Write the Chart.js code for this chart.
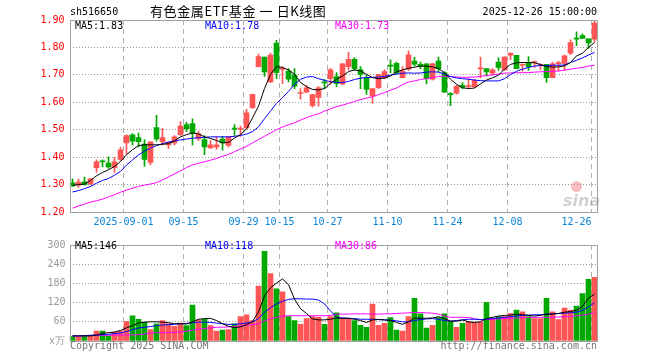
<!DOCTYPE html>
<html>
<head>
<meta charset="utf-8">
<script src="https://cdn.jsdelivr.net/npm/chart.js@4"></script>
<style>
  body { margin: 0; background: #fff; width: 660px; height: 360px; position: relative; overflow: hidden;
         font-family: 'DejaVu Sans Mono', monospace; font-size: 10px; }
  canvas { position: absolute; left: 0; }
  .t { position: absolute; white-space: pre; line-height: 12px; }
</style>
</head>
<body>
<canvas id="priceChart" width="660" height="235" style="top:0px"></canvas>
<canvas id="volChart" width="660" height="125" style="top:235px"></canvas>

<div class="t" style="left:70px;top:6px;color:#000">sh516650</div>
<div class="t" style="left:150px;top:3px;font:13px 'Noto Sans CJK SC';line-height:16px;letter-spacing:0.6px;color:#000">有色金属ETF基金 一 日K线图</div>
<div class="t" style="right:63px;top:6px;color:#000">2025-12-26 15:00:00</div>

<div class="t" style="left:75px;top:20px;color:#000">MA5:1.83</div>
<div class="t" style="left:205px;top:20px;color:#0000ff">MA10:1.78</div>
<div class="t" style="left:335px;top:20px;color:#ff00ff">MA30:1.73</div>

<div class="t" style="left:75px;top:240px;color:#000">MA5:146</div>
<div class="t" style="left:205px;top:240px;color:#0000ff">MA10:118</div>
<div class="t" style="left:335px;top:240px;color:#ff00ff">MA30:86</div>

<div class="t" style="left:49px;top:335px;color:#999">x万</div>
<div class="t" style="left:70px;top:340px;color:#777">Copyright 2025 SINA.COM</div>
<div class="t" style="right:63px;top:340px;color:#777">http://finance.sina.com.cn</div>

<div style="position:absolute;left:571px;top:181px;width:11px;height:11px;border-radius:6px;background:rgba(235,110,110,0.45)"></div>
<div class="t" style="left:563px;top:193px;font:italic bold 16px 'DejaVu Sans';line-height:16px;color:rgba(150,150,150,0.45)">sina</div>

<script>
// trading days 2025-08-19 .. 2025-12-26
const dates = [
  '08-19','08-20','08-21','08-22','08-25','08-26','08-27','08-28','08-29',
  '09-01','09-02','09-03','09-04','09-05','09-08','09-09','09-10','09-11','09-12',
  '09-15','09-16','09-17','09-18','09-19','09-22','09-23','09-24','09-25','09-26',
  '09-29','09-30','10-09','10-10','10-13','10-14','10-15','10-16','10-17','10-20',
  '10-21','10-22','10-23','10-24','10-27','10-28','10-29','10-30','10-31','11-03',
  '11-04','11-05','11-06','11-07','11-10','11-11','11-12','11-13','11-14','11-17',
  '11-18','11-19','11-20','11-21','11-24','11-25','11-26','11-27','11-28','12-01',
  '12-02','12-03','12-04','12-05','12-08','12-09','12-10','12-11','12-12','12-15',
  '12-16','12-17','12-18','12-19','12-22','12-23','12-24','12-25','12-26'
];
const tickDates = ['09-01','09-15','09-29','10-15','10-27','11-10','11-24','12-08','12-26'];
const tickText = ['2025-09-01','09-15','09-29','10-15','10-27','11-10','11-24','12-08','12-26     '];

const opens = [
  1.306,1.298,1.310,1.302,1.362,1.387,1.378,1.362,1.392,1.452,
  1.481,1.471,1.448,1.381,1.508,1.456,1.445,1.452,1.482,1.519,
  1.522,1.466,1.464,1.434,1.437,1.466,1.443,1.504,1.502,1.507,
  1.580,1.730,1.765,1.674,1.816,1.720,1.714,1.699,1.632,1.637,
  1.588,1.618,1.673,1.686,1.694,1.667,1.730,1.757,1.719,1.689,
  1.623,1.653,1.690,1.734,1.742,1.690,1.721,1.750,1.738,1.740,
  1.684,1.750,1.708,1.631,1.633,1.662,1.657,1.657,1.722,1.723,
  1.706,1.747,1.718,1.772,1.771,1.735,1.745,1.745,1.735,1.738,
  1.690,1.741,1.742,1.779,1.832,1.843,1.831,1.830
];
const highs = [
  1.321,1.320,1.327,1.323,1.390,1.390,1.401,1.399,1.436,1.481,
  1.486,1.488,1.464,1.456,1.552,1.505,1.456,1.479,1.530,1.527,
  1.540,1.494,1.479,1.460,1.474,1.476,1.474,1.519,1.513,1.574,
  1.629,1.776,1.765,1.779,1.826,1.730,1.723,1.723,1.650,1.662,
  1.629,1.657,1.684,1.724,1.708,1.742,1.782,1.763,1.730,1.699,
  1.650,1.702,1.718,1.755,1.747,1.730,1.788,1.765,1.747,1.740,
  1.742,1.765,1.711,1.635,1.662,1.672,1.686,1.684,1.765,1.723,
  1.723,1.762,1.767,1.779,1.771,1.740,1.767,1.750,1.740,1.738,
  1.747,1.750,1.772,1.828,1.857,1.850,1.831,1.900
];
const lows = [
  1.293,1.290,1.298,1.300,1.344,1.364,1.359,1.344,1.388,1.412,
  1.445,1.437,1.366,1.372,1.458,1.445,1.432,1.445,1.479,1.493,
  1.445,1.461,1.409,1.432,1.428,1.425,1.437,1.479,1.476,1.503,
  1.578,1.729,1.694,1.672,1.686,1.668,1.674,1.650,1.611,1.635,
  1.582,1.586,1.650,1.666,1.657,1.664,1.718,1.716,1.650,1.629,
  1.596,1.650,1.686,1.708,1.702,1.689,1.716,1.733,1.723,1.667,
  1.681,1.711,1.637,1.588,1.630,1.650,1.650,1.653,1.689,1.696,
  1.699,1.716,1.716,1.755,1.723,1.713,1.716,1.727,1.718,1.672,
  1.689,1.714,1.716,1.774,1.806,1.833,1.796,1.820
];
const closes = [
  1.295,1.309,1.300,1.321,1.383,1.383,1.364,1.383,1.427,1.479,
  1.458,1.456,1.392,1.456,1.466,1.471,1.454,1.474,1.513,1.504,
  1.488,1.485,1.437,1.445,1.445,1.452,1.474,1.502,1.504,1.562,
  1.629,1.767,1.711,1.772,1.708,1.721,1.684,1.659,1.634,1.653,
  1.628,1.653,1.671,1.718,1.669,1.740,1.757,1.723,1.702,1.647,
  1.650,1.701,1.712,1.732,1.708,1.714,1.773,1.739,1.733,1.686,
  1.740,1.723,1.637,1.628,1.658,1.655,1.659,1.680,1.724,1.711,
  1.718,1.727,1.765,1.779,1.723,1.737,1.730,1.747,1.737,1.690,
  1.740,1.743,1.769,1.818,1.830,1.833,1.816,1.889
];

const ma5 = [
  1.297,1.300,1.302,1.315,1.332,1.344,1.354,1.366,1.384,1.409,
  1.427,1.442,1.445,1.445,1.445,1.447,1.449,1.460,1.474,1.482,
  1.488,1.485,1.474,1.468,1.461,1.452,1.454,1.470,1.482,1.503,
  1.543,1.586,1.650,1.702,1.730,1.727,1.718,1.702,1.672,1.657,
  1.647,1.645,1.650,1.669,1.684,1.696,1.712,1.718,1.714,1.702,
  1.690,1.686,1.688,1.696,1.711,1.718,1.724,1.728,1.732,1.732,
  1.729,1.723,1.708,1.684,1.666,1.653,1.650,1.652,1.667,1.681,
  1.689,1.699,1.721,1.738,1.744,1.745,1.745,1.744,1.738,1.730,
  1.728,1.729,1.733,1.745,1.769,1.779,1.800,1.818
];
const ma10 = [
  1.273,1.278,1.285,1.293,1.305,1.315,1.322,1.334,1.348,1.371,
  1.390,1.408,1.422,1.433,1.442,1.449,1.455,1.459,1.463,1.466,
  1.469,1.471,1.472,1.474,1.474,1.474,1.474,1.476,1.479,1.484,
  1.493,1.510,1.540,1.568,1.596,1.617,1.640,1.665,1.684,1.692,
  1.694,1.686,1.680,1.675,1.672,1.672,1.676,1.683,1.688,1.690,
  1.691,1.692,1.694,1.699,1.703,1.706,1.707,1.706,1.707,1.710,
  1.711,1.710,1.703,1.694,1.689,1.686,1.684,1.681,1.679,1.678,
  1.678,1.678,1.686,1.701,1.713,1.721,1.727,1.732,1.734,1.734,
  1.735,1.735,1.736,1.745,1.753,1.762,1.772,1.782
];
const ma30 = [
  1.214,1.222,1.229,1.236,1.241,1.247,1.255,1.263,1.272,1.280,
  1.287,1.293,1.298,1.302,1.307,1.317,1.328,1.339,1.350,1.362,
  1.372,1.378,1.383,1.389,1.395,1.403,1.410,1.420,1.430,1.439,
  1.452,1.464,1.476,1.488,1.500,1.510,1.518,1.525,1.535,1.544,
  1.552,1.558,1.568,1.576,1.584,1.590,1.596,1.603,1.610,1.615,
  1.620,1.628,1.635,1.644,1.652,1.664,1.674,1.678,1.683,1.686,
  1.690,1.694,1.695,1.694,1.692,1.691,1.691,1.692,1.695,1.697,
  1.700,1.703,1.706,1.707,1.708,1.708,1.708,1.710,1.711,1.712,
  1.713,1.714,1.717,1.721,1.724,1.727,1.732,1.735
];

// volume, 万
const volumes = [
  14,13,16,16,31,31,16,28,31,61,
  79,68,58,36,54,64,54,46,56,48,
  112,66,68,48,31,34,36,54,76,82,
  64,172,280,211,163,154,76,64,52,70,
  76,74,52,76,88,71,68,64,49,43,
  115,49,55,73,34,31,76,133,85,40,
  49,73,85,61,43,55,61,58,58,121,
  70,76,76,86,97,91,76,70,70,133,
  91,67,103,97,109,148,193,199
];
const volMa5 = [
  16,16,16,16,18,24,26,28,33,41,
  48,56,59,60,60,59,57,54,54,53,
  60,68,70,71,64,54,46,42,44,51,
  61,91,141,166,181,194,176,131,101,86,
  69,66,66,68,72,71,71,68,64,58,
  66,67,66,64,58,52,60,72,71,71,
  72,76,70,62,62,66,60,58,60,70,
  74,78,80,81,84,82,80,78,80,84,
  84,86,90,92,96,108,134,146
];
const volMa10 = [
  16,16,17,18,19,20,21,23,25,30,
  35,41,43,45,48,50,51,52,54,55,
  57,59,59,58,56,54,52,52,54,56,
  59,70,90,104,116,124,130,132,132,131,
  131,128,116,94,74,72,71,70,68,68,
  68,67,66,65,63,60,60,64,67,69,
  70,68,64,62,64,66,68,68,67,68,
  70,72,74,76,78,80,81,82,82,84,
  85,86,87,88,90,96,106,120
];
const volMa30 = [
  15,15,16,17,18,18,18,18,19,19,
  19,20,22,25,26,26,26,27,28,31,
  34,36,39,41,43,43,44,45,47,50,
  51,54,63,69,74,78,79,79,79,79,
  79,79,79,80,84,84,84,85,85,85,
  84,84,85,85,86,87,88,89,89,88,
  87,84,78,74,74,74,73,70,66,67,
  68,69,70,71,72,73,73,74,74,74,
  74,75,76,77,79,81,84,87
];

const upColor = '#ff5555';
const downColor = '#00a800';
const candleColors = closes.map((c, i) => c >= opens[i] ? upColor : downColor);
const dashedAt = tickDates.map(d => dates.indexOf(d));

Chart.defaults.font.family = "'DejaVu Sans Mono', monospace";
Chart.defaults.font.size = 10;
Chart.defaults.animation = false;

// frame round the plot area
const framePlugin = {
  id: 'frame',
  afterDraw(chart) {
    const { ctx, chartArea: a } = chart;
    const l = Math.ceil(a.left), r = Math.floor(a.right);
    ctx.save();
    ctx.strokeStyle = '#a0a0a0';
    ctx.lineWidth = 1;
    ctx.strokeRect(l + 0.5, Math.round(a.top) + 0.5, r - l, Math.round(a.bottom - a.top));
    ctx.restore();
  }
};

function xAxis(showLabels, height) {
  return {
    type: 'category',
    offset: true,
    grid: {
      offset: true,
      drawTicks: false,
      color: c => dashedAt.includes(c.index) ? '#b0b0b0' : 'rgba(0,0,0,0)'
    },
    border: { display: false, dash: [5, 4] },
    ticks: {
      display: showLabels,
      autoSkip: false,
      maxRotation: 0,
      minRotation: 0,
      padding: 4,
      labelOffset: -3,
      color: '#0a84d6',
      callback: (v, i) => {
        const k = dashedAt.indexOf(i);
        return k < 0 ? '' : tickText[k];
      }
    },
    afterFit: s => { s.height = height; }
  };
}

function lineSet(label, data, color) {
  return { type: 'line', label, data, borderColor: color, borderWidth: 1, pointRadius: 0, tension: 0, order: 0 };
}

const baseOptions = {
  responsive: false,
  devicePixelRatio: 1,
  plugins: { legend: { display: false }, tooltip: { enabled: false } }
};

new Chart(document.getElementById('priceChart'), {
  type: 'bar',
  data: {
    labels: dates,
    datasets: [
      lineSet('MA5', ma5, '#000000'),
      lineSet('MA10', ma10, '#0000ff'),
      lineSet('MA30', ma30, '#ff00ff'),
      {
        label: 'body',
        data: opens.map((o, i) => [o, closes[i]]),
        backgroundColor: candleColors,
        barThickness: 5,
        minBarLength: 1,
        grouped: false,
        order: 1
      },
      {
        label: 'wick',
        data: lows.map((l, i) => [l, highs[i]]),
        backgroundColor: candleColors,
        barThickness: 1,
        grouped: false,
        order: 2
      }
    ]
  },
  options: {
    ...baseOptions,
    layout: { padding: { top: 20, right: 62.5, left: 0, bottom: 0 } },
    scales: {
      x: xAxis(true, 23),
      y: {
        min: 1.2,
        max: 1.9,
        ticks: { stepSize: 0.1, color: '#ff0000', padding: 5, callback: v => v.toFixed(2) },
        grid: { color: '#999999', drawTicks: false },
        border: { display: false, dash: [1, 2] },
        afterFit: s => { s.width = 69.5; }
      }
    }
  },
  plugins: [framePlugin]
});

new Chart(document.getElementById('volChart'), {
  type: 'bar',
  data: {
    labels: dates,
    datasets: [
      lineSet('MA5', volMa5, '#000000'),
      lineSet('MA10', volMa10, '#0000ff'),
      lineSet('MA30', volMa30, '#ff00ff'),
      {
        label: 'volume',
        data: volumes,
        backgroundColor: candleColors,
        barThickness: 5,
        order: 1
      }
    ]
  },
  options: {
    ...baseOptions,
    layout: { padding: { top: 5, right: 62.5, left: 0, bottom: 0 } },
    scales: {
      x: xAxis(false, 19),
      y: {
        min: 0,
        max: 300,
        ticks: { stepSize: 60, color: '#999999', padding: 4, callback: v => v === 0 ? '' : v },
        grid: { color: '#999999', drawTicks: false },
        border: { display: false, dash: [1, 2] },
        afterFit: s => { s.width = 69.5; }
      }
    }
  },
  plugins: [framePlugin]
});
</script>
</body>
</html>
